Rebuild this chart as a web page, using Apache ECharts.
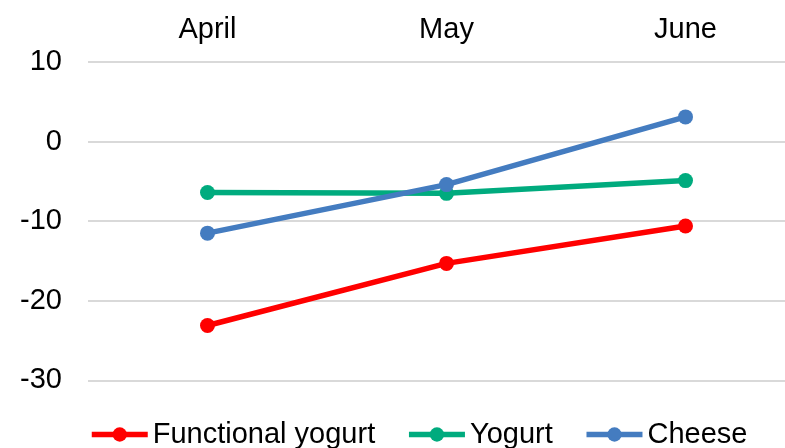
<!DOCTYPE html>
<html>
<head>
<meta charset="utf-8">
<script src="https://cdn.jsdelivr.net/npm/echarts@6/dist/echarts.min.js"></script>
<style>
  html, body { margin:0; padding:0; background:#fff; overflow:hidden; }
  #chart { width:805px; height:460px; }
</style>
</head>
<body>
<div id="chart"></div>
<script>
// ======== data ========
const months = ['April', 'May', 'June'];
const functionalYogurt = [-23.1, -15.3, -10.6];
const yogurt = [-6.4, -6.5, -4.9];
const cheese = [-11.5, -5.4, 3.1];

const FONT = 'Liberation Sans, Arial, sans-serif';
// the plot runs past the window on the right and bottom, like the cropped original
const chart = echarts.init(document.getElementById('chart'));

function lineSeries(name, data, color){
  return {
    name, type:'line', data,
    symbol:'circle', symbolSize:15,
    itemStyle:{ color },
    lineStyle:{ width:5.5, color },
    emphasis:{ disabled:true }
  };
}

chart.setOption({
  animation:false,
  grid:{ left:88, right:0, top:62, bottom:0 },
  legend:{
    top:415, left:84, itemGap:31,
    itemWidth:56, itemHeight:18,
    lineStyle:{ width:5.5 },
    textStyle:{ fontFamily:FONT, fontSize:29, color:'#000' },
    data:['Functional yogurt', 'Yogurt', 'Cheese']
  },
  xAxis:{
    type:'category', position:'top', data:months,
    axisLine:{ show:false }, axisTick:{ show:false },
    axisLabel:{ fontFamily:FONT, fontSize:29, color:'#000', margin:18 }
  },
  yAxis:{
    type:'value', min:-40, max:10, interval:10,
    axisLine:{ show:false }, axisTick:{ show:false },
    axisLabel:{ fontFamily:FONT, fontSize:29, color:'#000', margin:26, showMinLabel:false },
    splitLine:{ lineStyle:{ color:'#d9d9d9', width:2 } }
  },
  series:[
    lineSeries('Functional yogurt', functionalYogurt, '#ff0000'),
    lineSeries('Yogurt', yogurt, '#00ab7e'),
    lineSeries('Cheese', cheese, '#447cc0')
  ]
});
</script>
</body>
</html>
